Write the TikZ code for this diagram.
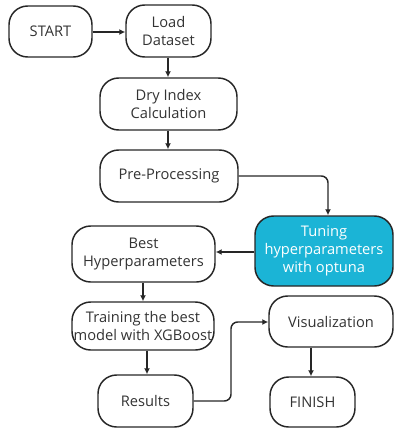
\documentclass[tikz,border=0pt]{standalone}
\usepackage{fontspec}
\setmainfont{Open Sans}
\usetikzlibrary{arrows.meta}
\definecolor{tunecyan}{HTML}{1BB4D6}
\definecolor{txt}{HTML}{333333}
\begin{document}
\begin{tikzpicture}[x=0.75pt,y=-0.75pt,
  box/.style 2 args={draw=black!85, line width=1.1pt, rounded corners=14pt,
    minimum width=#1*0.75pt, minimum height=#2*0.75pt, inner sep=1pt,
    align=center, text=txt, font=\fontsize{11}{13.6}\selectfont},
  conn/.style={draw=black!85, line width=1.1pt, -{Latex[length=4.5pt,width=4.5pt]}, rounded corners=5pt}]
\useasboundingbox (0,0) rectangle (395,429);
\node[box={83}{51}] (start) at (50.5,31.5) {START};
\node[box={85}{52}] (load) at (168.5,31) {Load\\Dataset};
\node[box={137}{52}] (dry) at (168.5,104) {Dry Index\\Calculation};
\node[box={138}{52}] (pre) at (169,176) {Pre-Processing};
\node[box={138}{70}, fill=tunecyan, text=white] (tune) at (324,251) {Tuning\\hyperparameters\\with optuna};
\node[box={143}{56}] (best) at (143.5,254) {Best\\Hyperparameters};
\node[box={142}{48}] (train) at (143,326) {Training the best\\model with XGBoost};
\node[box={95}{52}] (res) at (145.5,401) {Results};
\node[box={124}{51}] (vis) at (331,321.5) {Visualization};
\node[box={85}{50}] (fin) at (312.5,402) {FINISH};
\coordinate (c1) at (328,176);
\coordinate (c2) at (231,401);
\coordinate (c3) at (231,322);
\draw[conn] (start.east |- 0,32) -- (load.west |- 0,32);
\draw[conn] (load.south -| 168,0) -- (dry.north -| 168,0);
\draw[conn] (dry.south -| 168,0) -- (pre.north -| 168,0);
\draw[conn] (pre.east) -- (c1) -- (tune.north -| c1);
\draw[conn] (tune.west |- 0,252) -- (best.east |- 0,252);
\draw[conn] (best.south -| 143,0) -- (train.north -| 143,0);
\draw[conn] (train.south -| 147,0) -- (res.north -| 147,0);
\draw[conn] (res.east) -- (c2) -- (c3) -- (vis.west |- c3);
\draw[conn] (vis.south -| 311,0) -- (fin.north -| 311,0);
\end{tikzpicture}
\end{document}
